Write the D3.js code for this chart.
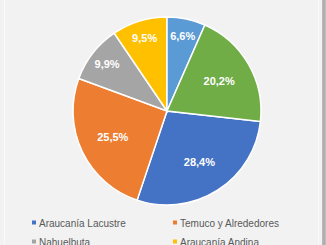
<!DOCTYPE html>
<html>
<head>
<meta charset="utf-8">
<script src="https://cdn.jsdelivr.net/npm/d3@7"></script>
<style>
  html, body { margin: 0; padding: 0; background: #ffffff; }
  svg { display: block; font-family: "Liberation Sans", Arial, sans-serif; }
</style>
</head>
<body>
<svg id="chart" width="326" height="245"></svg>
<script>
// destinations, in the order the chart tool got them
var categories = ["Araucanía Lacustre", "Temuco y Alrededores", "Nahuelbuta", "Araucanía Andina", "Araucanía Costera", "Malleco"];
var shares = [28.4, 25.5, 9.9, 9.5, 6.6, 20.2];
var labels = ["28,4%", "25,5%", "9,9%", "9,5%", "6,6%", "20,2%"];
var colors = ["#4472c4", "#ed7d31", "#a5a5a5", "#ffc000", "#5b9bd5", "#70ad47"];

var svg = d3.select("#chart");

// frame: grey panel, thin highlight lines, dark edge on the right
svg.append("rect").attr("x", 0).attr("y", 0).attr("width", 323).attr("height", 245).attr("fill", "#f2f2f2");
svg.append("line").attr("x1", 4.5).attr("x2", 4.5).attr("y1", 0).attr("y2", 245).attr("stroke", "#fafafa").attr("stroke-width", 1);
svg.append("line").attr("x1", 318.5).attr("x2", 318.5).attr("y1", 0).attr("y2", 245).attr("stroke", "#fafafa").attr("stroke-width", 1);
svg.append("rect").attr("x", 322.5).attr("y", 0).attr("width", 3).attr("height", 245).attr("fill", "#7f7f7f");
svg.append("line").attr("x1", 324).attr("x2", 324).attr("y1", 0).attr("y2", 245).attr("stroke", "#e0e0e0").attr("stroke-width", 1);

var cx = 167, cy = 111, radius = 94;
var startDeg = 96.4;

var pie = d3.pie().sort(null).value(function (d) { return d; })
    .startAngle(startDeg * Math.PI / 180)
    .endAngle((startDeg + 360) * Math.PI / 180);
var arcs = pie(shares);

var arc = d3.arc().innerRadius(0).outerRadius(radius);

var g = svg.append("g").attr("transform", "translate(" + cx + "," + cy + ")");

g.selectAll("path.slice").data(arcs).enter().append("path")
    .attr("class", "slice")
    .attr("d", arc)
    .attr("fill", function (d, i) { return colors[i]; })
    .attr("stroke", "#ffffff")
    .attr("stroke-width", 1.5);

// small slices get their labels further out, like the best-fit placement
g.selectAll("text.lbl").data(arcs).enter().append("text")
    .attr("class", "lbl")
    .attr("transform", function (d) {
        var lr = d.data < 15 ? radius * 0.81 : radius * 0.64;
        var c = d3.arc().innerRadius(lr).outerRadius(lr).centroid(d);
        return "translate(" + c[0] + "," + c[1] + ")";
    })
    .attr("text-anchor", "middle")
    .attr("dy", "0.35em")
    .attr("fill", "#ffffff")
    .attr("font-size", 11)
    .attr("font-weight", "bold")
    .text(function (d, i) { return labels[i]; });

// legend, two columns
var legX = [32, 173], legY0 = 223, legDy = 19;
var leg = svg.selectAll("g.leg").data(categories).enter().append("g")
    .attr("class", "leg")
    .attr("transform", function (d, i) {
        return "translate(" + legX[i % 2] + "," + (legY0 + Math.floor(i / 2) * legDy) + ")";
    });
leg.append("rect").attr("x", 0).attr("y", -2.5).attr("width", 4).attr("height", 4)
    .attr("fill", function (d, i) { return colors[i]; });
leg.append("text").attr("x", 7).attr("dy", "0.35em")
    .attr("fill", "#595959").attr("font-size", 10)
    .text(function (d) { return d; });
</script>
</body>
</html>
